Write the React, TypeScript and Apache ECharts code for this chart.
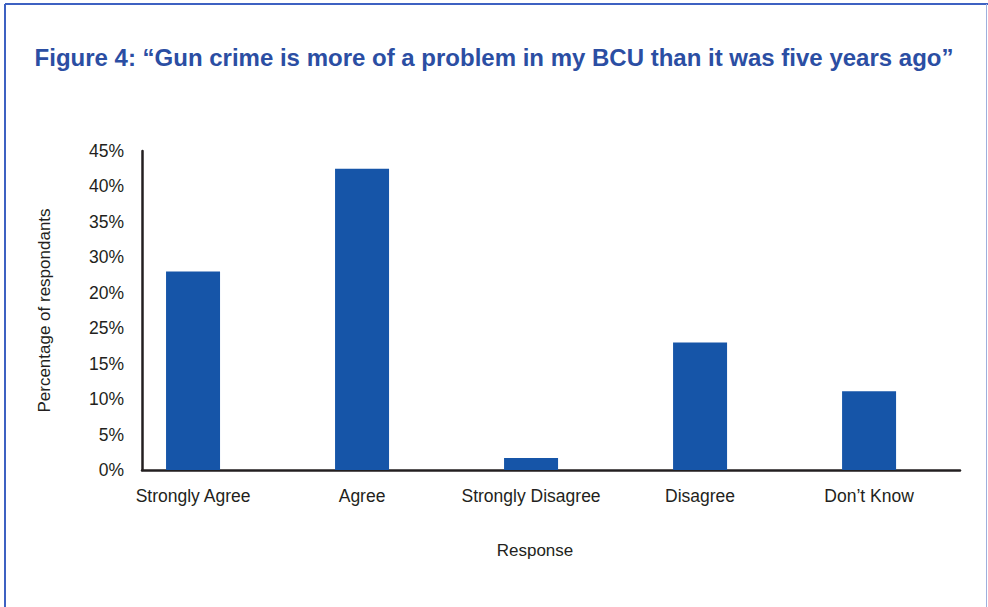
import React, { useEffect, useRef } from "react";
import * as echarts from "echarts";

const categories = ["Strongly Agree", "Agree", "Strongly Disagree", "Disagree", "Don’t Know"];
const percentages = [28.0, 42.5, 1.7, 18.0, 11.1];
const yTickLabels = ["0%", "5%", "10%", "15%", "25%", "20%", "30%", "35%", "40%", "45%"];
const titleText = "Figure 4: “Gun crime is more of a problem in my BCU than it was five years ago”";

const FONT = "'Liberation Sans', Arial, Helvetica, sans-serif";
const INK = "#231f20";

export default function App() {
  const ref = useRef<HTMLDivElement>(null);
  useEffect(() => {
    if (!ref.current) return;
    const chart = echarts.init(ref.current, undefined, { renderer: "svg" });
    chart.setOption({
      animation: false,
      backgroundColor: "#ffffff",
      textStyle: { fontFamily: FONT },
      title: {
        text: titleText,
        left: "center",
        top: 40,
        textStyle: { fontFamily: FONT, fontSize: 24, fontWeight: "bold", color: "#2b4ea3" },
      },
      graphic: [
        { type: "line", shape: { x1: 5, y1: 4, x2: 988, y2: 4 }, style: { stroke: "#3d61c2", lineWidth: 2 } },
        { type: "line", shape: { x1: 5, y1: 4, x2: 5, y2: 607 }, style: { stroke: "#3d61c2", lineWidth: 2 } },
        { type: "line", shape: { x1: 986.5, y1: 4, x2: 986.5, y2: 607 }, style: { stroke: "#9fb0dd", lineWidth: 1 } },
      ],
      grid: { left: 142, right: 28, top: 151, bottom: 137, containLabel: false },
      xAxis: {
        type: "value",
        min: -0.302,
        max: 4.538,
        splitLine: { show: false },
        axisTick: { show: false },
        axisLine: { show: true, onZero: false, lineStyle: { color: INK, width: 2.5 } },
        axisLabel: {
          customValues: [0, 1, 2, 3, 4],
          formatter: (v: number) => categories[Math.round(v)] ?? "",
          color: INK,
          fontSize: 17.5,
          fontFamily: FONT,
          margin: 17,
        },
        name: "Response",
        nameLocation: "middle",
        nameGap: 72,
        nameTextStyle: { color: INK, fontSize: 17, fontFamily: FONT, padding: [0, 32, 0, 0] },
      },
      yAxis: {
        type: "value",
        min: 0,
        max: 45,
        interval: 5,
        splitLine: { show: false },
        axisTick: { show: false },
        axisLine: { show: true, onZero: false, lineStyle: { color: INK, width: 2.5 } },
        axisLabel: {
          formatter: (_v: number, i: number) => yTickLabels[i] ?? "",
          color: INK,
          fontSize: 17.5,
          fontFamily: FONT,
          margin: 18,
        },
        name: "Percentage of respondants",
        nameLocation: "middle",
        nameGap: 89,
        nameTextStyle: { color: INK, fontSize: 17, fontFamily: FONT },
      },
      series: [
        {
          type: "bar",
          data: percentages.map((p, i) => [i, p]),
          barWidth: 54,
          itemStyle: { color: "#1655a8" },
        },
      ],
    });
    return () => chart.dispose();
  }, []);
  return (
    <div
      ref={ref}
      style={{ position: "fixed", left: 0, top: 0, width: 988, height: 607, background: "#fff" }}
    />
  );
}
